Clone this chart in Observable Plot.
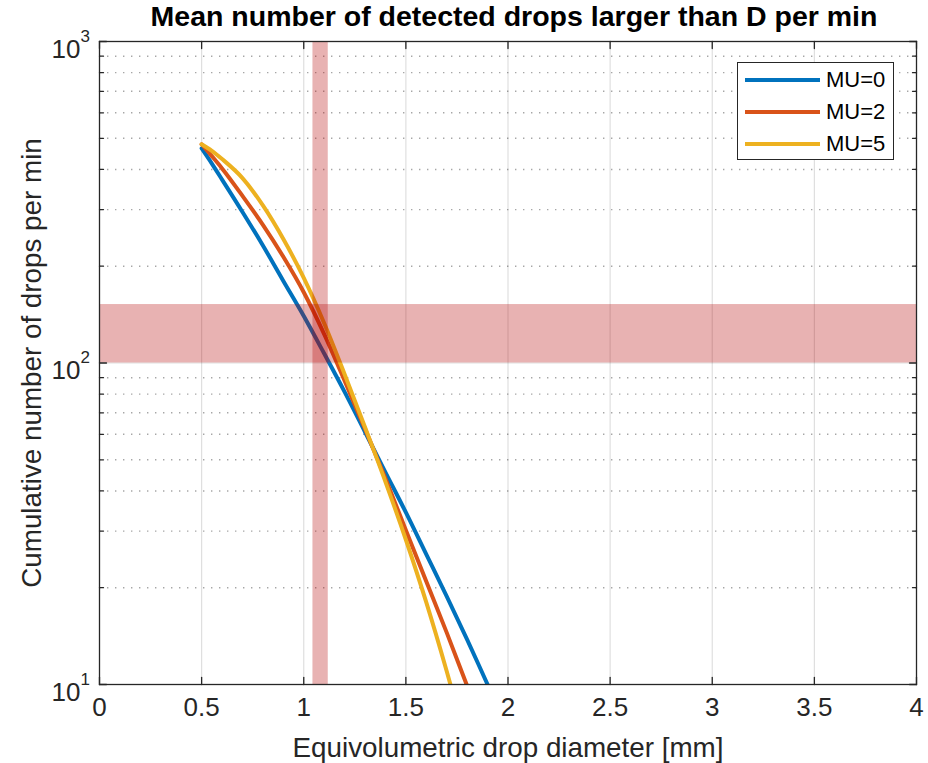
<!DOCTYPE html>
<html>
<head>
<meta charset="utf-8">
<script src="https://cdn.jsdelivr.net/npm/d3@7"></script>
<script src="https://cdn.jsdelivr.net/npm/@observablehq/plot@0.6"></script>
<style>
  body { margin: 0; background: #fff; }
  #chart { position: relative; width: 928px; height: 763px; font-family: "Liberation Sans", Arial, Helvetica, sans-serif; }
  .legend { position: absolute; left: 737px; top: 62px; width: 157px; height: 98px; box-sizing: border-box;
            border: 1.3px solid #262626; background: #fff; }
  .legend .swatch { position: absolute; left: 7px; width: 75px; height: 4px; margin-top: -2px; }
  .legend .name { position: absolute; left: 88px; font-size: 22px; line-height: 22px; margin-top: -11px; color: #000; }
</style>
</head>
<body>
<div id="chart"></div>
<script>
// Equivolumetric drop diameter [mm]
const diameter = [0.5, 0.55, 0.6, 0.7, 0.8, 0.9, 1.0, 1.1, 1.2, 1.3, 1.4, 1.5, 1.6, 1.7, 1.8, 1.9, 2.0];
// Cumulative number of drops larger than D per minute, one list per MU
const countMu0 = [465, 417, 372, 295, 232, 180, 140, 107, 81.3, 61, 45.7, 34.3, 25.4, 18.8, 13.8, 10.0, 7.3];
const countMu2 = [479, 440, 403, 331, 269, 214, 166, 123, 88.1, 62.4, 43.7, 30.2, 20.9, 14.5, 9.9, 6.8, null];
const countMu5 = [479, 457, 431, 376, 309, 243, 184, 133, 92.3, 63.1, 42.7, 28.2, 18.0, 11.0, 6.5, null, null];

const seriesNames = ["MU=0", "MU=2", "MU=5"];
const seriesColors = ["#0072BD", "#D95319", "#EDB120"];

// Highlighted ranges
const diameterBand = [1.045, 1.12];
const countBand = [100, 152];

// Axis ticks
const xTicks = [0, 0.5, 1, 1.5, 2, 2.5, 3, 3.5, 4];
const xTickLabels = ["0", "0.5", "1", "1.5", "2", "2.5", "3", "3.5", "4"];
const yMajor = [10, 100, 1000];
const yExponents = ["1", "2", "3"];
const yMinor = [20, 30, 40, 50, 60, 70, 80, 90, 200, 300, 400, 500, 600, 700, 800, 900];

const title = "Mean number of detected drops larger than D per min";
const xTitle = "Equivolumetric drop diameter [mm]";
const yTitle = "Cumulative number of drops per min";

const seriesValues = [countMu0, countMu2, countMu5];
const rows = [];
seriesNames.forEach((name, s) => {
  diameter.forEach((d, i) => {
    const v = seriesValues[s][i];
    if (v != null) rows.push({mu: name, d, n: v});
  });
});

const axisColor = "#262626";
const tickLine = { draw(context, l) { context.moveTo(0, 0); context.lineTo(0, -l); } };

const chart = Plot.plot({
  width: 928,
  height: 763,
  marginTop: 41,
  marginBottom: 79,
  marginLeft: 99,
  marginRight: 12,
  style: { fontFamily: "'Liberation Sans', Arial, Helvetica, sans-serif", background: "#fff", color: axisColor },
  x: { domain: [0, 4], axis: null },
  y: { type: "log", domain: [10, 1000], axis: null },
  color: { domain: seriesNames, range: seriesColors },
  marks: [
    // grid
    Plot.gridX(xTicks.slice(1, -1), { stroke: "#000", strokeOpacity: 0.13, strokeWidth: 1.2 }),
    Plot.gridY(yMinor, { stroke: "#000", strokeOpacity: 0.35, strokeWidth: 1.4, strokeDasharray: "1.4,6.6" }),
    Plot.gridY([100], { stroke: "#000", strokeOpacity: 0.13, strokeWidth: 1.2 }),
    // curves
    Plot.line(rows, { x: "d", y: "n", z: "mu", stroke: "mu", strokeWidth: 4, curve: "monotone-x", clip: true }),
    // highlighted ranges
    Plot.rect([diameterBand], { x1: d => d[0], x2: d => d[1], y1: 10, y2: 1000, fill: "rgb(178,0,0)", fillOpacity: 0.3 }),
    Plot.rect([countBand], { x1: 0, x2: 4, y1: d => d[0], y2: d => d[1], fill: "rgb(178,0,0)", fillOpacity: 0.3 }),
    // box
    Plot.frame({ stroke: axisColor, strokeWidth: 1.3 }),
    // inward ticks on all four sides
    Plot.vector(xTicks, { x: d => d, frameAnchor: "bottom", length: 7, rotate: 0, anchor: "start", shape: tickLine, stroke: axisColor, strokeWidth: 1.3 }),
    Plot.vector(xTicks, { x: d => d, frameAnchor: "top", length: 7, rotate: 180, anchor: "start", shape: tickLine, stroke: axisColor, strokeWidth: 1.3 }),
    Plot.vector(yMajor, { y: d => d, frameAnchor: "left", length: 7, rotate: 90, anchor: "start", shape: tickLine, stroke: axisColor, strokeWidth: 1.3 }),
    Plot.vector(yMajor, { y: d => d, frameAnchor: "right", length: 7, rotate: -90, anchor: "start", shape: tickLine, stroke: axisColor, strokeWidth: 1.3 }),
    Plot.vector(yMinor, { y: d => d, frameAnchor: "left", length: 4, rotate: 90, anchor: "start", shape: tickLine, stroke: axisColor, strokeWidth: 1.3 }),
    Plot.vector(yMinor, { y: d => d, frameAnchor: "right", length: 4, rotate: -90, anchor: "start", shape: tickLine, stroke: axisColor, strokeWidth: 1.3 }),
    // tick labels
    Plot.text(xTicks, { x: d => d, text: xTickLabels, frameAnchor: "bottom", lineAnchor: "middle", textAnchor: "middle", dy: 23, fontSize: 26, fill: axisColor }),
    Plot.text(yMajor, { y: d => d, text: () => "10", frameAnchor: "left", lineAnchor: "middle", dx: -19, dy: 8, textAnchor: "end", fontSize: 26, fill: axisColor }),
    Plot.text(yMajor, { y: d => d, text: yExponents, frameAnchor: "left", lineAnchor: "middle", dx: -19, dy: -5, textAnchor: "start", fontSize: 17, fill: axisColor }),
    // titles
    Plot.text([xTitle], { frameAnchor: "bottom", lineAnchor: "middle", textAnchor: "middle", dy: 64, fontSize: 27.8, fill: axisColor }),
    Plot.text([yTitle], { frameAnchor: "left", lineAnchor: "middle", textAnchor: "middle", dx: -67, rotate: -90, fontSize: 27.8, fill: axisColor }),
    Plot.text([title], { frameAnchor: "top", lineAnchor: "middle", textAnchor: "middle", dx: 6, dy: -25, fontSize: 28.5, fontWeight: "bold", fill: "#000" })
  ]
});

const root = document.getElementById("chart");
root.appendChild(chart);

// legend
const legend = document.createElement("div");
legend.className = "legend";
const rowCenters = [17, 49, 81];
seriesNames.forEach((name, i) => {
  const sw = document.createElement("div");
  sw.className = "swatch";
  sw.style.top = rowCenters[i] + "px";
  sw.style.background = seriesColors[i];
  const label = document.createElement("div");
  label.className = "name";
  label.style.top = rowCenters[i] + "px";
  label.textContent = name;
  legend.appendChild(sw);
  legend.appendChild(label);
});
root.appendChild(legend);
</script>
</body>
</html>
